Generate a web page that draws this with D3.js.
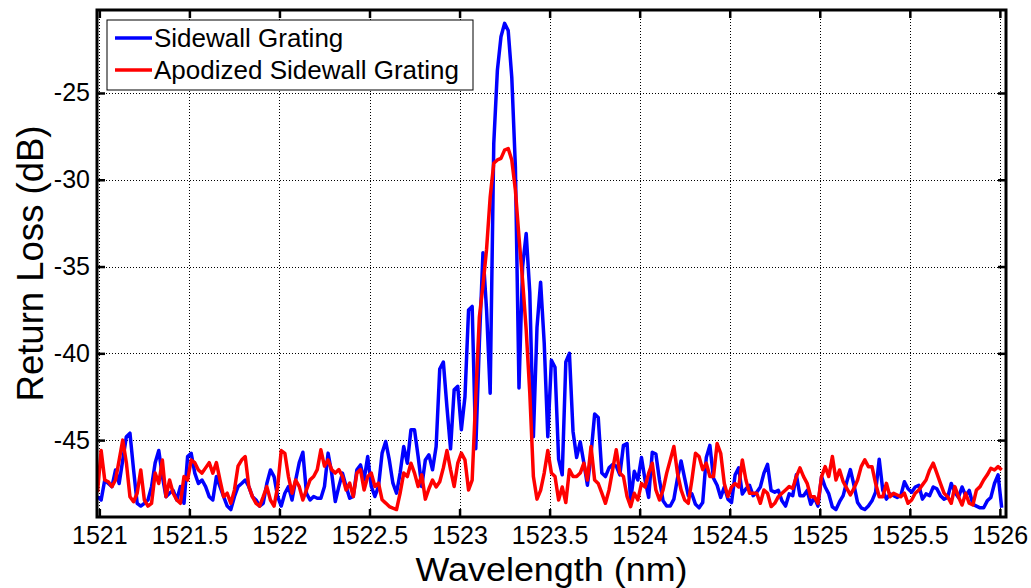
<!DOCTYPE html>
<html>
<head>
<meta charset="utf-8">
<script src="https://cdn.jsdelivr.net/npm/d3@7"></script>
<style>
  body { margin: 0; background: #fff; }
  svg { display: block; }
  text { font-family: "Liberation Sans", Arial, sans-serif; fill: #000; }
</style>
</head>
<body>
<div id="chart"></div>
<script>
// sampling grid of the spectrum (nm)
const startWavelength = 1520.99;
const stepWavelength = 0.02;

// return loss (dB) of the plain sidewall grating, one value per grid step
const sidewall = [
  -48.26, -48.45, -47.3, -47.5, -47.68, -46.72, -47.5, -46.15, -44.8, -44.6,
  -46.7, -48.64, -48.8, -48.64, -48.45, -47.68, -46.3, -45.6, -47.1, -48.26,
  -48.06, -47.9, -48.45, -47.68, -48.64, -45.95, -45.76, -46.9, -47.5, -47.3,
  -47.68, -48.26, -48.45, -47.1, -47.68, -48.26, -48.8, -49.0, -48.26, -47.68,
  -47.5, -47.3, -47.68, -48.26, -48.45, -48.8, -48.64, -47.5, -46.72, -47.1,
  -48.26, -48.8, -48.06, -47.68, -48.45, -47.3, -46.3, -45.7,
  -48.06, -48.45, -48.25, -48.35, -48.35, -47.67, -45.75, -46.9, -48.54, -47.67, -46.9, -47.67,
  -48.35, -48.25, -46.71, -46.43, -47.29, -45.95, -47.67, -48.25, -47.67, -45.75,
  -45.08, -46.14, -47.48, -48.06, -46.9, -45.37, -46.33, -44.41, -44.41, -45.95,
  -47.67, -46.14, -45.85, -46.71, -45.37,
  -40.9, -40.5, -43.1, -45.5, -42.1, -41.9, -44.4, -42.5,
  -37.5, -37.3, -45.5, -39.4, -34.2, -37.5, -42.3,
  -27.9, -23.7, -21.76, -20.99, -21.4, -24.1, -29.25,
  -42.0, -35.0, -33.1, -36.5, -44.8, -38.5, -35.9, -39.4, -44.8, -40.4, -40.8, -46.1,
  -47.0, -40.5, -40.0,
  -44.5, -46.0, -45.1, -46.3, -47.6, -45.8, -43.5, -43.7, -46.9,
  -47.1, -46.6, -46.4, -46.5, -47.0, -45.3, -45.2, -48.5, -46.8, -47.3,
  -46.0, -47.3, -48.3, -45.7, -45.8, -47.3, -48.5, -48.8, -48.8, -48.4,
  -47.2, -46.2, -47.2, -48.2, -48.1, -48.7, -48.9, -48.6, -46.0, -45.3,
  -47.2, -47.6, -48.3, -47.7, -48.4, -48.6, -47.0, -46.6, -48.1, -47.8,
  -47.6, -48.2, -48.0, -47.7, -46.9, -46.4, -47.9, -48.0, -47.9, -48.5,
  -48.8, -48.1, -48.2, -47.0, -48.2, -48.2, -47.9, -48.7, -48.3, -48.8,
  -47.1, -47.7, -48.1, -48.85, -49.0, -48.55, -48.2, -47.4, -46.7, -47.6,
  -48.6, -48.9, -49.0, -48.8, -48.5, -48.0, -46.1, -47.9, -48.4, -48.1,
  -48.2, -48.3, -48.2, -47.4, -47.8, -48.0, -47.7, -47.6, -48.4, -48.1,
  -48.2, -47.7, -47.8, -48.2, -48.4, -48.3, -47.5, -48.0, -48.3, -47.7,
  -48.2, -47.9, -48.7, -48.8, -48.9, -48.9, -48.5, -48.3, -47.5, -47.0, -48.9
];

// return loss (dB) of the apodized sidewall grating
const apodized = [
  -48.0, -45.6, -47.3, -47.4, -47.68, -47.3, -46.15, -45.0, -46.3, -48.26,
  -48.55, -48.06, -46.72, -48.45, -48.8, -48.64, -46.9, -47.5, -46.15, -48.26,
  -47.3, -48.06, -48.45, -48.64, -47.1, -47.3, -46.15, -46.3, -46.72, -46.9,
  -46.6, -46.3, -46.9, -46.3, -47.3, -48.26, -48.06, -48.64, -47.88, -46.5,
  -46.15, -45.95, -47.68, -48.26, -48.64, -48.8, -48.26, -47.68, -48.45, -48.8,
  -47.68, -45.6, -45.76, -47.1, -48.06, -47.3, -47.68, -48.45,
  -47.87, -47.29, -47.1, -46.7, -45.56, -46.5, -46.14, -46.7, -46.9, -46.7, -47.1, -47.87,
  -47.48, -48.25, -46.9, -46.7, -47.87, -47.1, -46.9, -47.67, -47.48, -48.44,
  -48.63, -48.83, -48.92, -49.0, -48.06, -46.9, -47.1, -46.33, -46.9, -47.67,
  -47.0, -48.4, -47.8, -47.3, -47.7, -47.4, -46.6, -45.6, -46.7, -47.67,
  -46.33, -45.75, -46.14, -47.87, -47.3, -42.5, -37.9, -36.1, -34.0, -31.0,
  -29.05, -28.86, -28.77, -28.29, -28.2, -28.86, -30.6, -33.3, -35.8, -38.65,
  -42.3, -47.1, -48.4, -47.9, -46.9, -45.6, -46.9, -47.1, -48.45, -47.7,
  -48.6, -46.7, -47.1, -47.1, -46.9, -46.33, -47.3, -45.37, -47.3, -47.5,
  -48.06, -48.64, -47.87, -46.7, -45.56, -46.9, -47.1, -48.25, -48.83, -48.06,
  -48.45, -47.5, -47.7, -46.9, -46.33, -47.87, -48.45, -47.87, -46.9, -46.14,
  -45.37, -46.9, -47.87, -48.45, -48.64, -47.3, -45.76, -45.95, -46.7, -46.33,
  -47.1, -47.1, -45.2, -45.76, -47.5, -48.25, -47.7, -47.5, -47.7, -46.14,
  -47.3, -48.06, -48.06, -48.06, -48.64, -47.87, -48.06, -48.83, -48.64, -48.26,
  -48.06, -47.87, -47.68, -47.78, -47.1, -46.6, -47.1, -47.49, -48.26, -48.26,
  -48.64, -47.1, -46.53, -47.1, -45.95, -47.3, -46.72, -47.4, -47.78, -48.16,
  -47.78, -47.3, -46.53, -46.14, -46.53, -46.53, -47.49, -48.26, -48.26, -47.49,
  -48.26, -48.06, -48.16, -48.26, -48.06, -48.64, -48.45, -48.06, -47.87, -47.58,
  -47.3, -46.72, -46.33, -46.9, -47.49, -48.06, -48.26, -48.64, -47.68, -48.26,
  -48.74, -48.06, -48.64, -48.74, -47.87, -47.68, -47.3, -47.0, -46.62, -46.72, -46.53, -46.72
];

const xTicks = [1521, 1521.5, 1522, 1522.5, 1523, 1523.5, 1524, 1524.5, 1525, 1525.5, 1526];
const yTicks = [-45, -40, -35, -30, -25];
const seriesNames = ["Sidewall Grating", "Apodized Sidewall Grating"];
const seriesColors = ["#0000ff", "#ff0000"];

const width = 1031, height = 588;
const margin = { top: 10, right: 25, bottom: 71, left: 97 };
const plotW = width - margin.left - margin.right;
const plotH = height - margin.top - margin.bottom;

const svg = d3.select("#chart").append("svg")
  .attr("width", width)
  .attr("height", height);

const x = d3.scaleLinear().domain([1520.987, 1526.034]).range([0, plotW]);
const y = d3.scaleLinear().domain([-49.43, -20.22]).range([plotH, 0]);

const g = svg.append("g")
  .attr("transform", "translate(" + margin.left + "," + margin.top + ")");

// dotted grid
const grid = g.append("g").attr("class", "grid")
  .attr("stroke", "#000")
  .attr("stroke-width", 1)
  .attr("stroke-dasharray", "1,2");

grid.selectAll(".vgrid")
  .data(xTicks)
  .enter().append("line")
  .attr("x1", d => Math.round(x(d)) + 0.5)
  .attr("x2", d => Math.round(x(d)) + 0.5)
  .attr("y1", 0)
  .attr("y2", plotH);

grid.selectAll(".hgrid")
  .data(yTicks)
  .enter().append("line")
  .attr("x1", 0)
  .attr("x2", plotW)
  .attr("y1", d => Math.round(y(d)) + 0.5)
  .attr("y2", d => Math.round(y(d)) + 0.5);

// spectra
g.append("clipPath").attr("id", "plot-clip")
  .append("rect").attr("width", plotW).attr("height", plotH);

const line = d3.line()
  .x((d, i) => x(startWavelength + i * stepWavelength))
  .y(d => y(d));

[sidewall, apodized].forEach(function(series, k) {
  g.append("path")
    .datum(series)
    .attr("clip-path", "url(#plot-clip)")
    .attr("fill", "none")
    .attr("stroke", seriesColors[k])
    .attr("stroke-width", 3.5)
    .attr("stroke-linejoin", "round")
    .attr("d", line);
});

// axes, ticks pointing inward on all four sides
const tickFont = "25px";

g.append("g")
  .attr("transform", "translate(0," + plotH + ")")
  .call(d3.axisBottom(x).tickValues(xTicks).tickSize(-8).tickPadding(9).tickFormat(d => String(d)));

g.append("g")
  .call(d3.axisTop(x).tickValues(xTicks).tickSize(-8).tickFormat(""));

g.append("g")
  .call(d3.axisLeft(y).tickValues(yTicks).tickSize(-8).tickPadding(7).tickFormat(d => String(d)));

g.append("g")
  .attr("transform", "translate(" + plotW + ",0)")
  .call(d3.axisRight(y).tickValues(yTicks).tickSize(-8).tickFormat(""));

g.selectAll(".domain").remove();
g.selectAll(".tick line").attr("stroke", "#000").attr("stroke-width", 2.5);
g.selectAll(".tick text")
  .attr("fill", "#000")
  .style("font-size", tickFont)
  .style("font-family", "'Liberation Sans', Arial, sans-serif");

// frame
g.append("rect")
  .attr("x", 0)
  .attr("y", 0)
  .attr("width", plotW)
  .attr("height", plotH)
  .attr("fill", "none")
  .attr("stroke", "#000")
  .attr("stroke-width", 3);

// axis titles (slightly widened glyphs, as in the original figure)
svg.append("text")
  .attr("x", margin.left + plotW / 2)
  .attr("y", 581)
  .attr("text-anchor", "middle")
  .attr("textLength", 272)
  .attr("lengthAdjust", "spacingAndGlyphs")
  .style("font-size", "34px")
  .text("Wavelength (nm)");

svg.append("text")
  .attr("transform", "translate(43," + (margin.top + plotH / 2) + ") rotate(-90)")
  .attr("text-anchor", "middle")
  .attr("textLength", 276)
  .attr("lengthAdjust", "spacingAndGlyphs")
  .style("font-size", "36px")
  .text("Return Loss (dB)");

// legend
const legend = g.append("g").attr("transform", "translate(10,10)");
legend.append("rect")
  .attr("width", 366)
  .attr("height", 70)
  .attr("fill", "#fff")
  .attr("stroke", "#000")
  .attr("stroke-width", 1);

const items = legend.selectAll(".item")
  .data(seriesNames)
  .enter().append("g")
  .attr("transform", (d, i) => "translate(0," + (18 + i * 32) + ")");

items.append("line")
  .attr("x1", 8)
  .attr("x2", 45)
  .attr("y1", 0)
  .attr("y2", 0)
  .attr("stroke", (d, i) => seriesColors[i])
  .attr("stroke-width", 3.5);

items.append("text")
  .attr("x", 47)
  .attr("y", 9)
  .style("font-size", "26px")
  .text(d => d);
</script>
</body>
</html>
